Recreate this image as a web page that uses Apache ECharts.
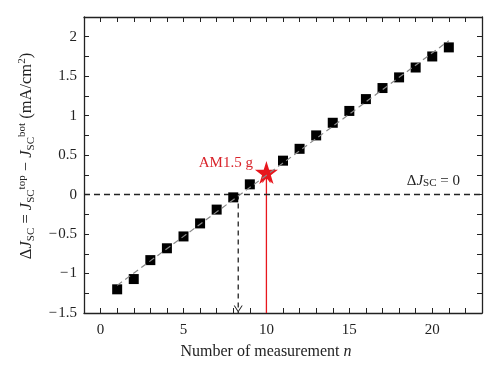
<!DOCTYPE html>
<html>
<head>
<meta charset="utf-8">
<script src="https://cdn.jsdelivr.net/npm/echarts@6/dist/echarts.min.js"></script>
<style>html,body{margin:0;padding:0;background:#fff}#c{width:500px;height:379px}</style>
</head>
<body>
<div id="c"></div>
<script>
// ---- data ----
const measN   = [1, 2, 3, 4, 5, 6, 7, 8, 9, 11, 12, 13, 14, 15, 16, 17, 18, 19, 20, 21];
const deltaJ  = [-1.20, -1.07, -0.83, -0.68, -0.53, -0.365, -0.19, -0.035, 0.13, 0.43, 0.58, 0.75, 0.91, 1.06, 1.21, 1.35, 1.485, 1.61, 1.75, 1.865];
const fitN    = [1, 21];
const fitJ    = [-1.15, 1.95];
const am15N   = 10;
const am15J   = 0.28;
const crossN  = 8.3;      // where the fit crosses ΔJ = 0
const xTickLabels = [0, 5, 10, 15, 20];
const yTickLabels = [-1.5, -1, -0.5, 0, 0.5, 1, 1.5, 2];

const FONT = 'Liberation Serif';
const RED = '#e8161d';
const chevUp = 'path://M0,10 L5,0 L10,10 L8.8,10 L5,2.4 L1.2,10 Z';
const chevDown = 'path://M0,0 L5,10 L10,0 L8.8,0 L5,7.6 L1.2,0 Z';
const star = 'path://M50,0 L61.2,34.5 L97.6,34.5 L68.2,55.9 L79.4,90.5 L50,69.1 L20.6,90.5 L31.8,55.9 L2.4,34.5 L38.8,34.5 Z';

const fmtMinus = v => String(v).replace('-', '\u2212\u200A');
const axisLineStyle = { color: '#222', width: 1.3 };
function xAx(show, pos) {
  return {
    type: 'value', position: pos, min: -1, max: 23, interval: 1,
    axisLine: { show: true, onZero: false, lineStyle: axisLineStyle },
    axisTick: { show: true, inside: true, length: 5, lineStyle: { color: '#222', width: 1 } },
    splitLine: { show: false },
    axisLabel: {
      show: show, margin: 10, fontFamily: FONT, fontSize: 15, color: '#222',
      formatter: v => xTickLabels.includes(v) ? fmtMinus(v) : ''
    }
  };
}
function yAx(show, pos) {
  return {
    type: 'value', position: pos, min: -1.5, max: 2.25, interval: 0.25,
    axisLine: { show: true, onZero: false, lineStyle: axisLineStyle },
    axisTick: { show: true, inside: true, length: 5, lineStyle: { color: '#222', width: 1 } },
    splitLine: { show: false },
    axisLabel: {
      show: show, margin: 7, fontFamily: FONT, fontSize: 15, color: '#222',
      formatter: v => yTickLabels.includes(v) ? fmtMinus(v) : ''
    }
  };
}

const xBottom = xAx(true, 'bottom');
xBottom.name = '{t|Number of measurement }{i|n}';
xBottom.nameLocation = 'middle';
xBottom.nameGap = 31;
xBottom.nameTextStyle = {
  padding: [0, 34, 0, 0],
  rich: {
    t: { fontFamily: FONT, fontSize: 16, color: '#222' },
    i: { fontFamily: FONT, fontSize: 16, fontStyle: 'italic', color: '#222' }
  }
};
const yLeft = yAx(true, 'left');
yLeft.name = '{t|\u0394}{i|J}{sub|SC}{t| = }{i|J}{sub|SC}{sup|top}{t| \u2212 }{i|J}{sub|SC}{sup|bot}{t| (mA/cm}{sup|2}{t|)}';
yLeft.nameLocation = 'middle';
yLeft.nameRotate = 90;
yLeft.nameGap = 47;
yLeft.nameTextStyle = {
  padding: [0, 0, 0, 18],
  rich: {
    t: { fontFamily: FONT, fontSize: 16.5, color: '#222' },
    i: { fontFamily: FONT, fontSize: 16.5, fontStyle: 'italic', color: '#222' },
    sub: { fontFamily: FONT, fontSize: 11, color: '#222', padding: [8, 0, 0, 0] },
    sup: { fontFamily: FONT, fontSize: 11, color: '#222', padding: [0, 0, 9, 0] }
  }
};

const option = {
  animation: false,
  backgroundColor: '#fff',
  grid: { left: 84, right: 18, top: 17, bottom: 66, containLabel: false },
  xAxis: [xBottom, xAx(false, 'top')],
  yAxis: [yLeft, yAx(false, 'right')],
  series: [
    {
      type: 'line', name: 'zero', data: [], silent: true,
      markLine: {
        silent: true, symbol: ['none', 'none'],
        lineStyle: { type: [6, 4], color: '#222', width: 1.4 },
        label: {
          show: true, position: 'insideEndTop', distance: [22, 6],
          formatter: '{t|\u0394}{i|J}{s|SC}{t| = 0}',
          rich: {
            t: { fontFamily: FONT, fontSize: 15, color: '#222' },
            i: { fontFamily: FONT, fontSize: 15, fontStyle: 'italic', color: '#222' },
            s: { fontFamily: FONT, fontSize: 11, color: '#222', padding: [4, 0, 0, 0] }
          }
        },
        data: [{ yAxis: 0 }]
      }
    },
    {
      type: 'line', name: 'cross', silent: true,
      data: [
        { value: [crossN, 0], symbol: 'none' },
        { value: [crossN, -1.5], symbol: chevDown, symbolSize: [9, 7], symbolOffset: [0, -4] }
      ],
      lineStyle: { type: [5, 4], color: '#222', width: 1.3 },
      itemStyle: { color: '#222' }
    },
    {
      type: 'line', name: 'am15arrow', silent: true, z: 3,
      data: [
        { value: [am15N, -1.5], symbol: 'none' },
        { value: [am15N, 0.235], symbol: chevUp, symbolSize: [9, 7], symbolOffset: [0, 3] }
      ],
      lineStyle: { color: RED, width: 1.3 },
      itemStyle: { color: RED }
    },
    {
      type: 'scatter', name: 'am15', z: 4,
      data: [[am15N, am15J]],
      symbol: star, symbolSize: 23,
      itemStyle: { color: RED, opacity: 1 },
      label: {
        show: true, position: 'left', distance: 2, offset: [0, -9],
        formatter: 'AM1.5 g', fontFamily: FONT, fontSize: 15, color: '#d9242b'
      }
    },
    {
      type: 'scatter', name: 'meas', z: 5,
      data: measN.map((n, i) => [n, deltaJ[i]]),
      symbol: 'rect', symbolSize: 10,
      itemStyle: { color: '#000', opacity: 1 }
    },
    {
      type: 'line', name: 'fit', z: 6, silent: true,
      data: fitN.map((n, i) => [n, fitJ[i]]),
      symbol: 'none',
      lineStyle: { type: [6, 4], color: '#888', width: 1.2 }
    }
  ]
};
const chart = echarts.init(document.getElementById('c'), null, { renderer: 'canvas' });
chart.setOption(option);
</script>
</body>
</html>
